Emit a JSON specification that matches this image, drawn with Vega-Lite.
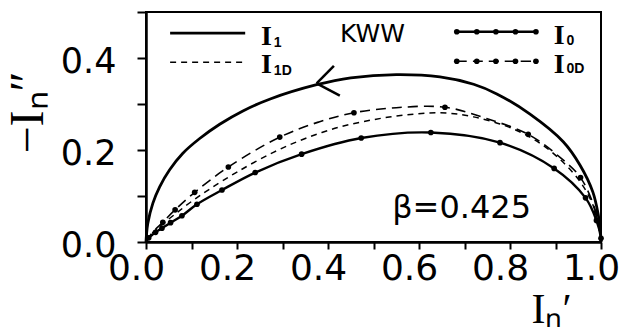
{
  "$schema": "https://vega.github.io/schema/vega-lite/v6.json",
  "width": 455,
  "height": 230,
  "autosize": "none",
  "padding": {"left": 146, "top": 12, "right": 20, "bottom": 87},
  "background": "white",
  "config": {
    "view": {"stroke": "black", "strokeWidth": 2},
    "axis": {"grid": false, "domainColor": "black", "domainWidth": 2.5, "tickColor": "black", "tickWidth": 2, "labelColor": "black", "titleColor": "black", "labelOverlap": false, "labelBound": false, "labelFlush": false}
  },
  "datasets": {
    "curves": [
      {"s": "I1", "g": "c", "i": 0, "x": 0, "y": 0, "d": 0},
      {"s": "I1", "g": "c", "i": 1, "x": 0.001, "y": 0.015, "d": 0},
      {"s": "I1", "g": "c", "i": 2, "x": 0.004, "y": 0.041, "d": 0},
      {"s": "I1", "g": "c", "i": 3, "x": 0.015, "y": 0.084, "d": 0},
      {"s": "I1", "g": "c", "i": 4, "x": 0.03, "y": 0.12, "d": 0},
      {"s": "I1", "g": "c", "i": 5, "x": 0.052, "y": 0.157, "d": 0},
      {"s": "I1", "g": "c", "i": 6, "x": 0.081, "y": 0.193, "d": 0},
      {"s": "I1", "g": "c", "i": 7, "x": 0.118, "y": 0.225, "d": 0},
      {"s": "I1", "g": "c", "i": 8, "x": 0.162, "y": 0.256, "d": 0},
      {"s": "I1", "g": "c", "i": 9, "x": 0.213, "y": 0.285, "d": 0},
      {"s": "I1", "g": "c", "i": 10, "x": 0.273, "y": 0.311, "d": 0},
      {"s": "I1", "g": "c", "i": 11, "x": 0.375, "y": 0.342, "d": 0},
      {"s": "I1", "g": "c", "i": 12, "x": 0.45, "y": 0.357, "d": 0},
      {"s": "I1", "g": "c", "i": 13, "x": 0.55, "y": 0.364, "d": 0},
      {"s": "I1", "g": "c", "i": 14, "x": 0.646, "y": 0.359, "d": 0},
      {"s": "I1", "g": "c", "i": 15, "x": 0.72, "y": 0.343, "d": 0},
      {"s": "I1", "g": "c", "i": 16, "x": 0.771, "y": 0.322, "d": 0},
      {"s": "I1", "g": "c", "i": 17, "x": 0.844, "y": 0.278, "d": 0},
      {"s": "I1", "g": "c", "i": 18, "x": 0.917, "y": 0.218, "d": 0},
      {"s": "I1", "g": "c", "i": 19, "x": 0.954, "y": 0.167, "d": 0},
      {"s": "I1", "g": "c", "i": 20, "x": 0.982, "y": 0.109, "d": 0},
      {"s": "I1", "g": "c", "i": 21, "x": 0.994, "y": 0.059, "d": 0},
      {"s": "I1", "g": "c", "i": 22, "x": 0.999, "y": 0.02, "d": 0},
      {"s": "I1", "g": "c", "i": 23, "x": 1.0, "y": 0, "d": 0},
      {"s": "I1D", "g": "c", "i": 0, "x": 0, "y": 0, "d": 0},
      {"s": "I1D", "g": "c", "i": 1, "x": 0.005, "y": 0.01, "d": 0},
      {"s": "I1D", "g": "c", "i": 2, "x": 0.02, "y": 0.025, "d": 0},
      {"s": "I1D", "g": "c", "i": 3, "x": 0.04, "y": 0.042, "d": 0},
      {"s": "I1D", "g": "c", "i": 4, "x": 0.067, "y": 0.063, "d": 0},
      {"s": "I1D", "g": "c", "i": 5, "x": 0.1, "y": 0.088, "d": 0},
      {"s": "I1D", "g": "c", "i": 6, "x": 0.14, "y": 0.115, "d": 0},
      {"s": "I1D", "g": "c", "i": 7, "x": 0.2, "y": 0.152, "d": 0},
      {"s": "I1D", "g": "c", "i": 8, "x": 0.28, "y": 0.195, "d": 0},
      {"s": "I1D", "g": "c", "i": 9, "x": 0.35, "y": 0.225, "d": 0},
      {"s": "I1D", "g": "c", "i": 10, "x": 0.426, "y": 0.25, "d": 0},
      {"s": "I1D", "g": "c", "i": 11, "x": 0.5, "y": 0.266, "d": 0},
      {"s": "I1D", "g": "c", "i": 12, "x": 0.57, "y": 0.276, "d": 0},
      {"s": "I1D", "g": "c", "i": 13, "x": 0.646, "y": 0.281, "d": 0},
      {"s": "I1D", "g": "c", "i": 14, "x": 0.72, "y": 0.272, "d": 0},
      {"s": "I1D", "g": "c", "i": 15, "x": 0.807, "y": 0.246, "d": 0},
      {"s": "I1D", "g": "c", "i": 16, "x": 0.87, "y": 0.212, "d": 0},
      {"s": "I1D", "g": "c", "i": 17, "x": 0.92, "y": 0.17, "d": 0},
      {"s": "I1D", "g": "c", "i": 18, "x": 0.955, "y": 0.13, "d": 0},
      {"s": "I1D", "g": "c", "i": 19, "x": 0.98, "y": 0.086, "d": 0},
      {"s": "I1D", "g": "c", "i": 20, "x": 0.993, "y": 0.045, "d": 0},
      {"s": "I1D", "g": "c", "i": 21, "x": 1.0, "y": 0, "d": 0},
      {"s": "I0D", "g": "c", "i": 0, "x": 0, "y": 0, "d": 0},
      {"s": "I0D", "g": "c", "i": 1, "x": 0.012, "y": 0.018, "d": 0},
      {"s": "I0D", "g": "c", "i": 2, "x": 0.037, "y": 0.043, "d": 1},
      {"s": "I0D", "g": "c", "i": 3, "x": 0.064, "y": 0.07, "d": 1},
      {"s": "I0D", "g": "c", "i": 4, "x": 0.107, "y": 0.108, "d": 1},
      {"s": "I0D", "g": "c", "i": 5, "x": 0.181, "y": 0.163, "d": 1},
      {"s": "I0D", "g": "c", "i": 6, "x": 0.294, "y": 0.228, "d": 1},
      {"s": "I0D", "g": "c", "i": 7, "x": 0.38, "y": 0.261, "d": 0},
      {"s": "I0D", "g": "c", "i": 8, "x": 0.457, "y": 0.281, "d": 1},
      {"s": "I0D", "g": "c", "i": 9, "x": 0.55, "y": 0.292, "d": 0},
      {"s": "I0D", "g": "c", "i": 10, "x": 0.657, "y": 0.293, "d": 1},
      {"s": "I0D", "g": "c", "i": 11, "x": 0.75, "y": 0.268, "d": 0},
      {"s": "I0D", "g": "c", "i": 12, "x": 0.84, "y": 0.234, "d": 1},
      {"s": "I0D", "g": "c", "i": 13, "x": 0.91, "y": 0.184, "d": 0},
      {"s": "I0D", "g": "c", "i": 14, "x": 0.955, "y": 0.14, "d": 1},
      {"s": "I0D", "g": "c", "i": 15, "x": 0.989, "y": 0.064, "d": 1},
      {"s": "I0D", "g": "c", "i": 16, "x": 1.0, "y": 0, "d": 0},
      {"s": "I0", "g": "c", "i": 0, "x": 0, "y": 0, "d": 0},
      {"s": "I0", "g": "c", "i": 1, "x": 0.006, "y": 0.009, "d": 1},
      {"s": "I0", "g": "c", "i": 2, "x": 0.021, "y": 0.021, "d": 1},
      {"s": "I0", "g": "c", "i": 3, "x": 0.035, "y": 0.03, "d": 1},
      {"s": "I0", "g": "c", "i": 4, "x": 0.054, "y": 0.042, "d": 1},
      {"s": "I0", "g": "c", "i": 5, "x": 0.079, "y": 0.057, "d": 1},
      {"s": "I0", "g": "c", "i": 6, "x": 0.112, "y": 0.082, "d": 1},
      {"s": "I0", "g": "c", "i": 7, "x": 0.167, "y": 0.113, "d": 1},
      {"s": "I0", "g": "c", "i": 8, "x": 0.24, "y": 0.151, "d": 1},
      {"s": "I0", "g": "c", "i": 9, "x": 0.342, "y": 0.191, "d": 1},
      {"s": "I0", "g": "c", "i": 10, "x": 0.473, "y": 0.226, "d": 1},
      {"s": "I0", "g": "c", "i": 11, "x": 0.626, "y": 0.238, "d": 1},
      {"s": "I0", "g": "c", "i": 12, "x": 0.778, "y": 0.216, "d": 1},
      {"s": "I0", "g": "c", "i": 13, "x": 0.897, "y": 0.16, "d": 1},
      {"s": "I0", "g": "c", "i": 14, "x": 0.966, "y": 0.096, "d": 1},
      {"s": "I0", "g": "c", "i": 15, "x": 0.99, "y": 0.047, "d": 1},
      {"s": "I0", "g": "c", "i": 16, "x": 1.0, "y": 0.008, "d": 1},
      {"s": "I0", "g": "c", "i": 17, "x": 1.0, "y": 0, "d": 0},
      {"s": "I1", "g": "legend", "i": 0, "x": 0.053, "y": 0.454, "d": 0},
      {"s": "I1", "g": "legend", "i": 1, "x": 0.218, "y": 0.454, "d": 0},
      {"s": "I1D", "g": "legend", "i": 0, "x": 0.053, "y": 0.391, "d": 0},
      {"s": "I1D", "g": "legend", "i": 1, "x": 0.218, "y": 0.391, "d": 0},
      {"s": "I0", "g": "legend", "i": 0, "x": 0.683, "y": 0.457, "d": 1},
      {"s": "I0", "g": "legend", "i": 1, "x": 0.727, "y": 0.457, "d": 1},
      {"s": "I0", "g": "legend", "i": 2, "x": 0.769, "y": 0.457, "d": 1},
      {"s": "I0", "g": "legend", "i": 3, "x": 0.812, "y": 0.457, "d": 1},
      {"s": "I0", "g": "legend", "i": 4, "x": 0.857, "y": 0.457, "d": 1},
      {"s": "I0D", "g": "legend", "i": 0, "x": 0.683, "y": 0.393, "d": 1},
      {"s": "I0D", "g": "legend", "i": 1, "x": 0.727, "y": 0.393, "d": 1},
      {"s": "I0D", "g": "legend", "i": 2, "x": 0.769, "y": 0.393, "d": 1},
      {"s": "I0D", "g": "legend", "i": 3, "x": 0.812, "y": 0.393, "d": 1},
      {"s": "I0D", "g": "legend", "i": 4, "x": 0.857, "y": 0.393, "d": 1}
    ],
    "mainLabels": [
      {"t": "I", "x": 0.265, "y": 0.428},
      {"t": "I", "x": 0.265, "y": 0.367},
      {"t": "I", "x": 0.908, "y": 0.43},
      {"t": "I", "x": 0.908, "y": 0.367}
    ],
    "subLabels": [
      {"t": "1", "x": 0.281, "y": 0.424},
      {"t": "1D", "x": 0.281, "y": 0.363},
      {"t": "0", "x": 0.924, "y": 0.428},
      {"t": "0D", "x": 0.924, "y": 0.367}
    ],
    "arrow": [
      {"x": 0.375, "y": 0.345, "x2": 0.413, "y2": 0.383},
      {"x": 0.375, "y": 0.345, "x2": 0.426, "y2": 0.318}
    ]
  },
  "layer": [
    {
      "data": {"name": "curves"},
      "transform": [{"filter": "datum.s == 'I1'"}],
      "mark": {"type": "line", "interpolate": "catmull-rom", "color": "black", "strokeWidth": 2.8},
      "encoding": {
        "x": {"field": "x", "type": "quantitative", "scale": {"domain": [0, 1], "nice": false, "zero": false},
          "axis": {"values": [0, 0.05, 0.1, 0.15, 0.2, 0.25, 0.3, 0.35, 0.4, 0.45, 0.5, 0.55, 0.6, 0.65, 0.7, 0.75, 0.8, 0.85, 0.9, 0.95, 1.0],
            "labelExpr": "(round(datum.value*100) % 20 == 0) ? format(datum.value, '.1f') : ''",
            "labelFont": "DejaVu Sans", "labelFontSize": 36, "labelPadding": 2, "labelOffset": -10, "tickSize": 7,
            "title": "Iₙ′", "titleFont": "Liberation Serif", "titleFontSize": 42, "titleFontWeight": "normal",
            "titleX": 405, "titleY": 47, "titleAlign": "center", "titleBaseline": "top"}},
        "y": {"field": "y", "type": "quantitative", "scale": {"domain": [0, 0.5], "nice": false},
          "axis": {"values": [0, 0.05, 0.1, 0.15, 0.2, 0.25, 0.3, 0.35, 0.4, 0.45, 0.5],
            "labelExpr": "(round(datum.value*100) % 20 == 0) ? format(datum.value, '.1f') : ''",
            "labelFont": "DejaVu Sans", "labelFontSize": 35, "labelPadding": 21, "labelOffset": 3, "tickSize": 9,
            "title": "−Iₙ″", "titleFont": "Liberation Serif", "titleFontSize": 48, "titleFontWeight": "normal",
            "titleX": -118, "titleY": 100, "titleAlign": "center", "titleBaseline": "middle", "titleAngle": -90}},
        "detail": {"field": "g", "type": "nominal"},
        "order": {"field": "i", "type": "quantitative"}
      }
    },
    {
      "data": {"name": "curves"},
      "transform": [{"filter": "datum.s == 'I0'"}],
      "mark": {"type": "line", "interpolate": "catmull-rom", "color": "black", "strokeWidth": 2.4},
      "encoding": {
        "x": {"field": "x", "type": "quantitative"},
        "y": {"field": "y", "type": "quantitative"},
        "detail": {"field": "g", "type": "nominal"},
        "order": {"field": "i", "type": "quantitative"}
      }
    },
    {
      "data": {"name": "curves"},
      "transform": [{"filter": "datum.s == 'I1D'"}],
      "mark": {"type": "line", "interpolate": "catmull-rom", "color": "black", "strokeWidth": 1.5, "strokeDash": [6, 5]},
      "encoding": {
        "x": {"field": "x", "type": "quantitative"},
        "y": {"field": "y", "type": "quantitative"},
        "detail": {"field": "g", "type": "nominal"},
        "order": {"field": "i", "type": "quantitative"}
      }
    },
    {
      "data": {"name": "curves"},
      "transform": [{"filter": "datum.s == 'I0D'"}],
      "mark": {"type": "line", "interpolate": "catmull-rom", "color": "black", "strokeWidth": 1.6, "strokeDash": [10, 6]},
      "encoding": {
        "x": {"field": "x", "type": "quantitative"},
        "y": {"field": "y", "type": "quantitative"},
        "detail": {"field": "g", "type": "nominal"},
        "order": {"field": "i", "type": "quantitative"}
      }
    },
    {
      "data": {"name": "curves"},
      "transform": [{"filter": "datum.d == 1"}],
      "mark": {"type": "circle", "color": "black", "opacity": 1, "size": 32},
      "encoding": {
        "x": {"field": "x", "type": "quantitative"},
        "y": {"field": "y", "type": "quantitative"}
      }
    },
    {
      "data": {"name": "arrow"},
      "mark": {"type": "rule", "color": "black", "strokeWidth": 2.5},
      "encoding": {
        "x": {"field": "x", "type": "quantitative"},
        "y": {"field": "y", "type": "quantitative"},
        "x2": {"field": "x2"},
        "y2": {"field": "y2"}
      }
    },
    {
      "data": {"name": "mainLabels"},
      "mark": {"type": "text", "font": "Liberation Serif", "fontWeight": "bold", "fontSize": 28, "align": "center", "baseline": "alphabetic", "color": "black"},
      "encoding": {
        "x": {"field": "x", "type": "quantitative"},
        "y": {"field": "y", "type": "quantitative"},
        "text": {"field": "t"}
      }
    },
    {
      "data": {"name": "subLabels"},
      "mark": {"type": "text", "font": "Liberation Sans", "fontWeight": "bold", "fontSize": 14, "align": "left", "baseline": "alphabetic", "color": "black"},
      "encoding": {
        "x": {"field": "x", "type": "quantitative"},
        "y": {"field": "y", "type": "quantitative"},
        "text": {"field": "t"}
      }
    },
    {
      "data": {"values": [{"t": "KWW", "x": 0.498, "y": 0.435}]},
      "mark": {"type": "text", "font": "DejaVu Sans", "fontSize": 25, "align": "center", "baseline": "alphabetic", "color": "black"},
      "encoding": {
        "x": {"field": "x", "type": "quantitative"},
        "y": {"field": "y", "type": "quantitative"},
        "text": {"field": "t"}
      }
    },
    {
      "data": {"values": [{"t": "β=0.425", "x": 0.541, "y": 0.052}]},
      "mark": {"type": "text", "font": "DejaVu Sans", "fontSize": 32, "align": "left", "baseline": "alphabetic", "color": "black"},
      "encoding": {
        "x": {"field": "x", "type": "quantitative"},
        "y": {"field": "y", "type": "quantitative"},
        "text": {"field": "t"}
      }
    }
  ]
}
